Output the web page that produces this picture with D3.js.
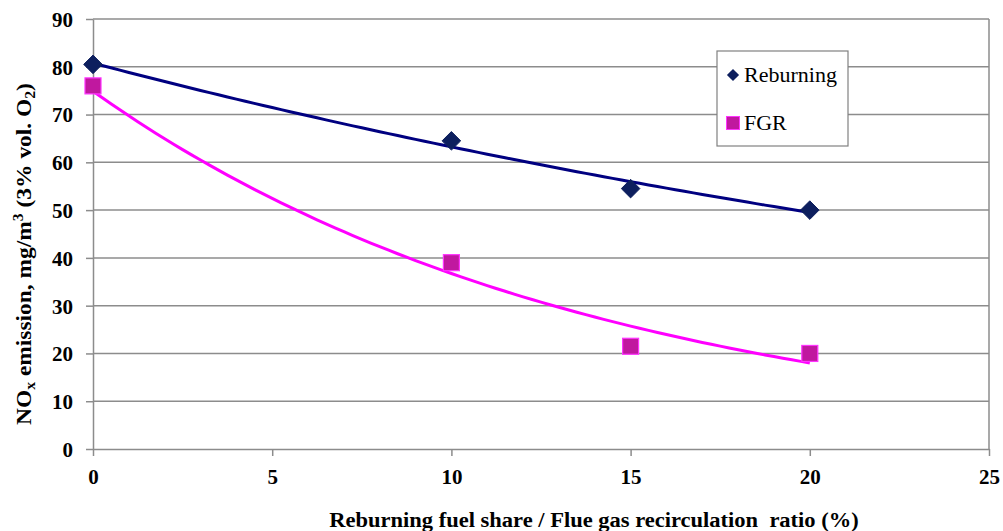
<!DOCTYPE html>
<html><head><meta charset="utf-8">
<script src="https://cdn.jsdelivr.net/npm/d3@7"></script>
<style>body{margin:0;background:#fff}svg{display:block}</style>
</head><body>
<svg id="c" width="1003" height="531"></svg>
<script>
const xTicks = [0,5,10,15,20,25];
const yTicks = [0,10,20,30,40,50,60,70,80,90];
const xVals = [0,10,15,20];
const reburning = [80.5,64.5,54.5,50];
const fgr = [76,39,21.5,20];
const seriesNames = ["Reburning","FGR"];

const svg = d3.select("#c");
const m = {l:93, r:989, t:19, b:449};
const x = d3.scaleLinear().domain([0,25]).range([m.l,m.r]);
const y = d3.scaleLinear().domain([0,90]).range([m.b,m.t]);
const font = "Liberation Serif, Tinos, DejaVu Serif, serif";

// gridlines
svg.append("g").selectAll("line").data(yTicks.filter(d=>d>0)).join("line")
  .attr("x1",m.l).attr("x2",m.r).attr("y1",d=>y(d)).attr("y2",d=>y(d))
  .attr("stroke","#8c8c8c").attr("stroke-width",1.5);
svg.append("line").attr("x1",m.r).attr("x2",m.r).attr("y1",m.t).attr("y2",m.b)
  .attr("stroke","#8c8c8c").attr("stroke-width",1.5);

// axes
const yAxis = d3.axisLeft(y).tickValues(yTicks).tickSize(7).tickSizeOuter(0).tickPadding(13);
const gy = svg.append("g").attr("transform",`translate(${m.l},0)`).call(yAxis);
const xAxis = d3.axisBottom(x).tickValues(xTicks).tickSize(7).tickSizeOuter(0).tickPadding(13);
const gx = svg.append("g").attr("transform",`translate(0,${m.b})`).call(xAxis);
[gx,gy].forEach(g=>{
  g.attr("font-family",null).attr("font-size",null);
  g.selectAll("path").attr("stroke","#8c8c8c").attr("stroke-width",1.5);
  g.selectAll("line").attr("stroke","#8c8c8c").attr("stroke-width",1.5);
  g.selectAll("text").style("font-family",font).style("font-weight","bold")
    .style("font-size","21px").attr("fill","#000");
});
gy.selectAll("text").attr("dy","0.35em");

// exponential trendline (least squares on ln y), like a spreadsheet trendline
function expFit(xs, ys){
  const ly = ys.map(Math.log);
  const mx = d3.mean(xs), my = d3.mean(ly);
  let sxy=0,sxx=0;
  xs.forEach((xv,i)=>{sxy+=(xv-mx)*(ly[i]-my); sxx+=(xv-mx)*(xv-mx);});
  const b = sxy/sxx, a = Math.exp(my-b*mx);
  return t => a*Math.exp(b*t);
}
const line = d3.line().x(d=>x(d[0])).y(d=>y(d[1]));
const samples = d3.range(0,20.001,0.25);
const fR = expFit(xVals,reburning), fF = expFit(xVals,fgr);
svg.append("path").attr("d",line(samples.map(t=>[t,fR(t)])))
  .attr("fill","none").attr("stroke","#000080").attr("stroke-width",3);
svg.append("path").attr("d",line(samples.map(t=>[t,fF(t)])))
  .attr("fill","none").attr("stroke","#ff00ff").attr("stroke-width",3);

// markers
const diamond = d3.symbol().type(d3.symbolDiamond2).size(220);
svg.append("g").selectAll("path").data(xVals.map((xv,i)=>[xv,reburning[i]])).join("path")
  .attr("d",diamond).attr("transform",d=>`translate(${x(d[0])},${y(d[1])})`)
  .attr("fill","#0d1f5e").attr("stroke","#0d1f5e").attr("stroke-width",1);
svg.append("g").selectAll("rect").data(xVals.map((xv,i)=>[xv,fgr[i]])).join("rect")
  .attr("x",d=>x(d[0])-8).attr("y",d=>y(d[1])-8).attr("width",16).attr("height",16)
  .attr("fill","#c0189f").attr("stroke","#ff33ff").attr("stroke-width",1.2);

// legend
const lg = svg.append("g");
lg.append("rect").attr("x",717).attr("y",51).attr("width",131).attr("height",95)
  .attr("fill","#fff").attr("stroke","#808080").attr("stroke-width",1.2);
lg.append("path").attr("d",d3.symbol().type(d3.symbolDiamond2).size(95)())
  .attr("transform","translate(733,75)").attr("fill","#0d1f5e");
lg.append("rect").attr("x",726.5).attr("y",116.5).attr("width",13).attr("height",13)
  .attr("fill","#c0189f").attr("stroke","#ff33ff").attr("stroke-width",1);
lg.selectAll("text.l").data(seriesNames).join("text").attr("class","l")
  .attr("x",744).attr("y",(d,i)=>82+i*48).text(d=>d)
  .style("font-family",font).style("font-size","22px").attr("fill","#000");

// helper: stretch a text along its own direction to a target length
function fitWidth(sel, cx, cy, rot, target){
  const node = sel.node();
  const w = node.getComputedTextLength ? node.getComputedTextLength() : target;
  const s = w > 0 ? target / w : 1;
  sel.attr("transform",`translate(${cx},${cy}) rotate(${rot}) scale(${s},1)`);
}

// axis titles
const xt = svg.append("text").attr("x",0).attr("y",0).attr("text-anchor","middle")
  .style("font-family",font).style("font-weight","bold").style("font-size","21.5px")
  .style("white-space","pre")
  .text("Reburning fuel share / Flue gas recirculation  ratio (%)");
fitWidth(xt, 594, 527, 0, 530);

const yt = svg.append("text").attr("x",0).attr("y",0)
  .attr("text-anchor","middle").style("font-family",font).style("font-weight","bold")
  .style("font-size","21px");
yt.append("tspan").text("NO");
yt.append("tspan").style("font-size","14px").attr("dy",4).text("x");
yt.append("tspan").attr("dy",-4).text(" emission, mg/m");
yt.append("tspan").style("font-size","14px").attr("dy",-8).text("3");
yt.append("tspan").attr("dy",8).text(" (3% vol. O");
yt.append("tspan").style("font-size","14px").attr("dy",4).text("2");
yt.append("tspan").attr("dy",-4).text(")");
fitWidth(yt, 31, 254, -90, 342);
</script>
</body></html>
